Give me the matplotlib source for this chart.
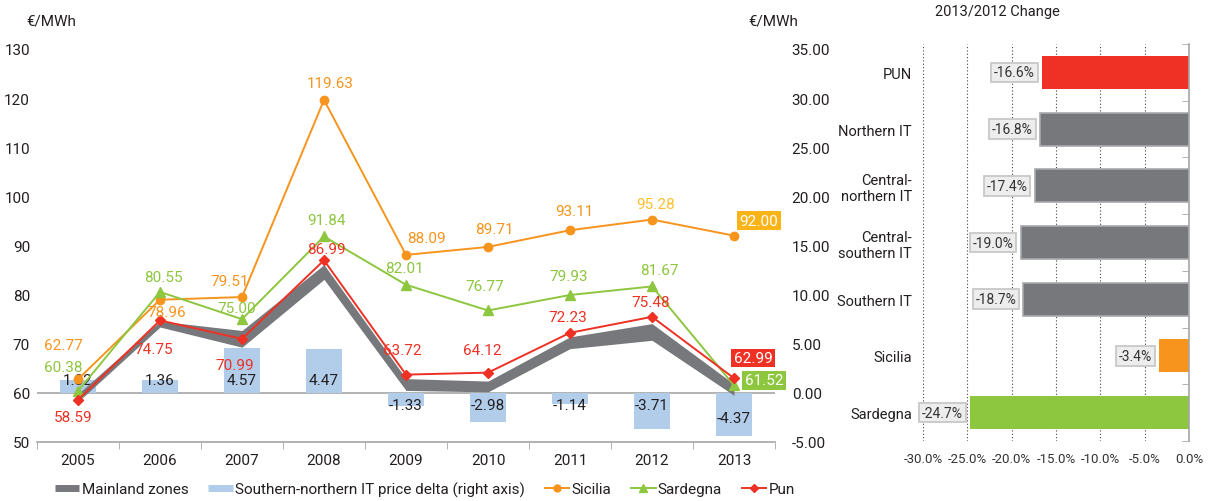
import numpy as np
import matplotlib.pyplot as plt
from matplotlib.lines import Line2D

plt.rcParams['font.family'] = ['Roboto', 'DejaVu Sans']
plt.rcParams['text.color'] = '#231F20'
plt.rcParams['axes.unicode_minus'] = False

# data
years = ['2005', '2006', '2007', '2008', '2009', '2010', '2011', '2012', '2013']
mainland_low = [58.2, 73.4, 69.3, 83.1, 60.5, 60.2, 69.0, 70.7, 59.5]
mainland_high = [59.8, 74.6, 72.7, 86.1, 62.9, 62.4, 71.4, 74.1, 61.8]
delta = [1.32, 1.36, 4.57, 4.47, -1.33, -2.98, -1.14, -3.71, -4.37]
sicilia = [62.77, 78.96, 79.51, 119.63, 88.09, 89.71, 93.11, 95.28, 92.00]
sardegna = [60.38, 80.55, 75.00, 91.84, 82.01, 76.77, 79.93, 81.67, 61.52]
pun = [58.59, 74.75, 70.99, 86.99, 63.72, 64.12, 72.23, 75.48, 62.99]

zones = ['PUN', 'Northern IT', 'Central-\nnorthern IT', 'Central-\nsouthern IT',
         'Southern IT', 'Sicilia', 'Sardegna']
change = [-16.6, -16.8, -17.4, -19.0, -18.7, -3.4, -24.7]

# colours
GREY = '#77787B'
BLUE = '#B1CDEA'
ORANGE = '#F7941D'
GREEN = '#8DC63F'
RED = '#EE3124'
AXIS = '#A6A6A6'

# label offsets in pixels (style only)
sic_off = [(-15, 34), (7, -12), (-12, 16), (6, 17), (20, 17), (6, 18), (4, 19), (4, 16), (25, 15)]
sar_off = [(-15, 24), (3, 15), (-5, 11), (2, 16), (-2, 17), (-3, 24), (-1, 19), (7, 16), (30, 5)]
pun_off = [(-5, -17), (-6, -29), (-7, -26), (2, 11), (-4, 25), (-6, 23), (-2, 16), (-1, 15), (19, 20)]
delta_lab_y = [1.33, 1.33, 1.33, 1.33, -1.22, -1.22, -1.22, -1.22, -2.55]

fig = plt.figure(figsize=(12.1, 5.02), dpi=100)

# ---- left chart ----
ax = fig.add_axes([37/1210, 1-443/502, 738/1210, 393/502])
ax2 = ax.twinx()
ax.set_zorder(ax2.get_zorder() + 1)
ax.patch.set_visible(False)

x = np.arange(len(years))
ax2.bar(x, delta, width=0.45, color=BLUE, zorder=1)
ax2.axhline(0, color=AXIS, lw=1.2, zorder=0)
ax2.set_ylim(-5, 35)
ax2.set_yticks(np.arange(-5, 36, 5))
ax2.set_yticklabels([f'{v:.2f}' for v in np.arange(-5, 36, 5)])
ax2.tick_params(axis='y', length=0, pad=12, labelsize=11, labelcolor='#231F20')
for s in ax2.spines.values():
    s.set_visible(False)
for i, v in enumerate(delta):
    ax2.text(x[i], delta_lab_y[i], f'{v:.2f}', ha='center', va='center',
             fontsize=11, color='#231F20', zorder=5)

ax.fill_between(x, mainland_low, mainland_high, color=GREY, lw=0, zorder=2)
ax.plot(x, sicilia, color=ORANGE, lw=1.4, marker='o', ms=6, zorder=3)
ax.plot(x, sardegna, color=GREEN, lw=1.4, marker='^', ms=7, zorder=3)
ax.plot(x, pun, color=RED, lw=1.4, marker='D', ms=5, zorder=4)

def put_labels(vals, offs, col, box_col=None):
    for i, v in enumerate(vals):
        kw = {}
        c = col
        if i == len(vals) - 1 and box_col is not None:
            kw['bbox'] = dict(boxstyle='square,pad=0.15', fc=box_col, ec='none')
            c = 'white'
        ax.annotate(f'{v:.2f}', xy=(x[i], v), xytext=offs[i], textcoords='offset pixels',
                    ha='center', va='center', fontsize=11, color=c, zorder=6, **kw)

put_labels(sicilia, sic_off, ORANGE, '#FBB417')
put_labels(sardegna, sar_off, GREEN, GREEN)
put_labels(pun, pun_off, RED, RED)
# 2012 Sicilia label is drawn in a lighter yellow
ax.texts[7].set_color('#FDBE2C')

ax.set_ylim(50, 130)
ax.set_xlim(-0.5, 8.5)
ax.set_yticks(range(50, 131, 10))
ax.set_xticks(x)
ax.set_xticklabels(years)
ax.set_xticks(np.arange(-0.5, 9, 1), minor=True)
ax.tick_params(axis='y', length=0, pad=5, labelsize=11, labelcolor='#231F20')
ax.tick_params(axis='x', which='major', length=0, pad=8, labelsize=11, labelcolor='#231F20')
ax.tick_params(axis='x', which='minor', length=5, color=AXIS)
for s in ['top', 'left', 'right']:
    ax.spines[s].set_visible(False)
ax.spines['bottom'].set_color(AXIS)
ax.spines['bottom'].set_linewidth(1.2)

fig.text(51/1210, 1-22/502, '€/MWh', ha='center', va='center', fontsize=11)
fig.text(773/1210, 1-22/502, '€/MWh', ha='center', va='center', fontsize=11)

handles = [
    Line2D([], [], color=GREY, lw=5, solid_capstyle='butt'),
    Line2D([], [], color=BLUE, lw=5, solid_capstyle='butt'),
    Line2D([], [], color=ORANGE, lw=1.4, marker='o', ms=5),
    Line2D([], [], color=GREEN, lw=1.4, marker='^', ms=6),
    Line2D([], [], color=RED, lw=1.4, marker='D', ms=4),
]
labels = ['Mainland zones', 'Southern-northern IT price delta (right axis)',
          'Sicilia', 'Sardegna', 'Pun']
fig.legend(handles, labels, loc='center', bbox_to_anchor=(425/1210, 1-490/502), ncol=5,
           frameon=False, fontsize=11, handlelength=1.6, handletextpad=0.15,
           columnspacing=1.3)

# ---- right chart ----
axr = fig.add_axes([923/1210, 1-442/502, 266/1210, 397/502])
bar_cols = [RED, GREY, GREY, GREY, GREY, ORANGE, GREEN]
edge_cols = ['none', '#A7A9AC', '#A7A9AC', '#A7A9AC', '#A7A9AC', 'none', 'none']
yy = np.arange(len(zones))
axr.barh(yy, change, height=0.58, color=bar_cols, edgecolor=edge_cols, lw=1.2, zorder=2)
for i, v in enumerate(change):
    axr.annotate(f'{v:.1f}%', xy=(v, yy[i]), xytext=(-7, 0), textcoords='offset pixels',
                 ha='right', va='center', fontsize=10, color='#333333', zorder=4,
                 bbox=dict(boxstyle='square,pad=0.2', fc='#EDEDEE', ec='#C8C8C8', lw=1.3))
axr.set_xlim(-30, 0)
axr.set_ylim(6.5, -0.5)
axr.set_xticks(np.arange(-30, 1, 5))
axr.set_xticklabels([f'{v:.1f}%' for v in np.arange(-30, 1, 5)])
axr.set_yticks(yy)
axr.set_yticklabels(zones)
axr.set_yticks(np.arange(-0.5, 7, 1), minor=True)
axr.tick_params(axis='y', which='major', length=0, pad=8, labelsize=10.5, labelcolor='#231F20')
axr.tick_params(axis='y', which='minor', left=False, right=True, direction='in',
                length=5, color=AXIS)
axr.tick_params(axis='x', length=0, pad=8, labelsize=9.5, labelcolor='#333333')
axr.grid(axis='x', color='#444444', ls=(0, (1, 2)), lw=0.8, zorder=0)
for s in ['top', 'left', 'bottom']:
    axr.spines[s].set_visible(False)
axr.spines['right'].set_color(AXIS)
axr.spines['right'].set_linewidth(1.2)

fig.text(997/1210, 1-12/502, '2013/2012 Change', ha='center', va='center', fontsize=10.5)

fig.savefig('out.png', dpi=100)
